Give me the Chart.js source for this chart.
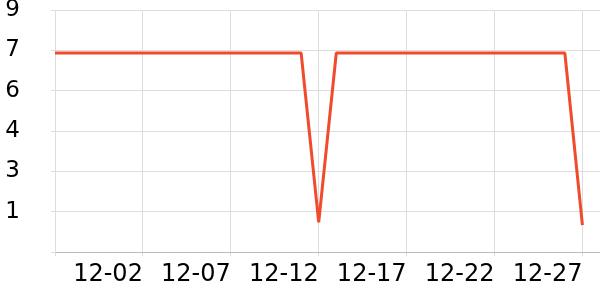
<!DOCTYPE html>
<html>
<head>
<meta charset="utf-8">
<script src="https://cdn.jsdelivr.net/npm/chart.js@4"></script>
<style>
  body { margin: 0; background: #fff; }
  #wrap { width: 600px; height: 300px; }
</style>
</head>
<body>
<div id="wrap"><canvas id="chart" width="600" height="300"></canvas></div>
<script>
const dates = ['11-27', '11-28', '11-29', '11-30', '12-01', '12-02', '12-03', '12-04',
  '12-05', '12-06', '12-07', '12-08', '12-09', '12-10', '12-11', '12-12', '12-13',
  '12-14', '12-15', '12-16', '12-17', '12-18', '12-19', '12-20', '12-21', '12-22',
  '12-23', '12-24', '12-25', '12-26', '12-27'];
const values = [7.4, 7.4, 7.4, 7.4, 7.4, 7.4, 7.4, 7.4, 7.4, 7.4, 7.4, 7.4, 7.4, 7.4, 7.4,
  1.1, 7.4, 7.4, 7.4, 7.4, 7.4, 7.4, 7.4, 7.4, 7.4, 7.4, 7.4, 7.4, 7.4, 7.4, 1.0];
const xTicks = [0, 5, 10, 15, 20, 25, 30];
const yTicks = [0, 1.5, 3, 4.5, 6, 7.5, 9];

new Chart(document.getElementById('chart'), {
  type: 'line',
  data: {
    datasets: [{
      data: values.map((v, i) => ({ x: i, y: v })),
      borderColor: '#ef4b2c',
      borderWidth: 3,
      borderJoinStyle: 'bevel',
      pointRadius: 0,
      tension: 0,
      fill: false
    }]
  },
  options: {
    responsive: false,
    animation: false,
    layout: { padding: 0 },
    plugins: { legend: { display: false }, tooltip: { enabled: false } },
    scales: {
      x: {
        type: 'linear',
        min: 0,
        max: 31,
        afterBuildTicks: s => { s.ticks = xTicks.map(v => ({ value: v })); },
        afterFit: s => { s.height = 48; },
        grid: { color: '#dddddd', tickLength: 4 },
        border: { color: '#bbbbbb' },
        ticks: {
          autoSkip: false,
          maxRotation: 0,
          align: 'end',
          padding: 4,
          color: '#000',
          font: { family: 'DejaVu Sans', size: 24 },
          callback: v => v > 0 ? dates[v] : ''
        }
      },
      y: {
        min: 0,
        max: 9,
        afterBuildTicks: s => { s.ticks = yTicks.map(v => ({ value: v })); },
        afterFit: s => { s.width = 55; s.paddingTop = 10; },
        grid: { color: '#dddddd', tickLength: 4 },
        border: { color: '#dddddd' },
        ticks: {
          padding: 31,
          color: '#000',
          font: { family: 'DejaVu Sans', size: 23 },
          callback: v => v === 0 ? '' : Math.floor(v)
        }
      }
    }
  }
});
</script>
</body>
</html>
